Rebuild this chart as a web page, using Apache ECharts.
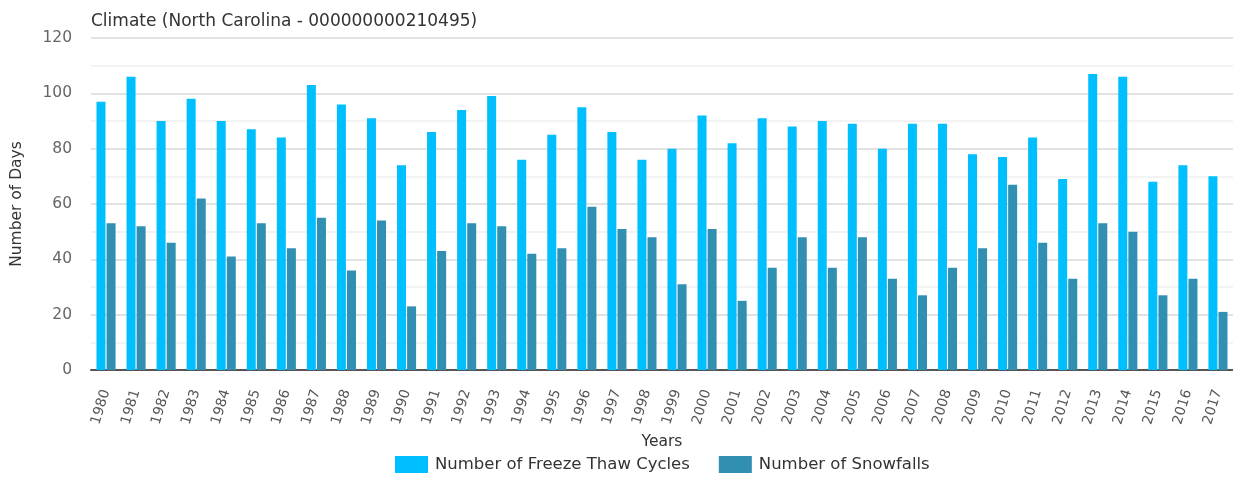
<!DOCTYPE html>
<html>
<head>
<meta charset="utf-8">
<title>Climate</title>
<script src="https://cdn.jsdelivr.net/npm/echarts@6/dist/echarts.min.js"></script>
<style>
  html, body { margin: 0; padding: 0; background: #fff; }
  #chart { width: 1233px; height: 477px; }
</style>
</head>
<body>
<div id="chart"></div>
<script>
const years = ['1980', '1981', '1982', '1983', '1984', '1985', '1986', '1987', '1988', '1989',
  '1990', '1991', '1992', '1993', '1994', '1995', '1996', '1997', '1998', '1999',
  '2000', '2001', '2002', '2003', '2004', '2005', '2006', '2007', '2008', '2009',
  '2010', '2011', '2012', '2013', '2014', '2015', '2016', '2017'];

const freezeThaw = [97, 106, 90, 98, 90, 87, 84, 103, 96, 91,
  74, 86, 94, 99, 76, 85, 95, 86, 76, 80,
  92, 82, 91, 88, 90, 89, 80, 89, 89, 78,
  77, 84, 69, 107, 106, 68, 74, 70];

const snowfalls = [53, 52, 46, 62, 41, 53, 44, 55, 36, 54,
  23, 43, 53, 52, 42, 44, 59, 51, 48, 31,
  51, 25, 37, 48, 37, 48, 33, 27, 37, 44,
  67, 46, 33, 53, 50, 27, 33, 21];

const chart = echarts.init(document.getElementById('chart'));

const font = 'DejaVu Sans, Liberation Sans, Arial, sans-serif';

const options = {
  animation: false,
  textStyle: { fontFamily: font },
  title: {
    text: 'Climate (North Carolina - 000000000210495)',
    left: 86,
    top: 8,
    textStyle: { fontSize: 17, fontWeight: 'normal', color: '#333', fontFamily: font }
  },
  legend: {
    top: 451,
    left: 390,
    icon: 'rect',
    itemWidth: 33,
    itemHeight: 17,
    itemGap: 29,
    textStyle: { fontSize: 16.5, color: '#333', fontFamily: font, padding: [0, 0, 0, 2] },
    data: ['Number of Freeze Thaw Cycles', 'Number of Snowfalls']
  },
  grid: { left: 91, right: 0, top: 38, bottom: 107 },
  xAxis: {
    type: 'category',
    data: years,
    name: 'Years',
    nameLocation: 'middle',
    nameGap: 61,
    nameTextStyle: { fontSize: 15.5, color: '#333' },
    axisLine: { lineStyle: { color: '#555', width: 2 } },
    axisTick: { show: false },
    axisLabel: { rotate: 73, fontSize: 14, color: '#555', margin: 20, interval: 0 }
  },
  yAxis: {
    type: 'value',
    min: 0,
    max: 120,
    interval: 20,
    name: 'Number of Days',
    nameLocation: 'middle',
    nameGap: 66,
    nameTextStyle: { fontSize: 15.5, color: '#333' },
    axisLine: { show: false },
    axisTick: { show: false },
    axisLabel: { fontSize: 15.5, color: '#666', margin: 19 },
    splitLine: { lineStyle: { color: '#d8d8d8', width: 1.5 } },
    minorTick: { show: false, splitNumber: 2 },
    minorSplitLine: { show: true, lineStyle: { color: '#efefef', width: 1.5 } }
  },
  series: [
    {
      name: 'Number of Freeze Thaw Cycles',
      type: 'bar',
      data: freezeThaw,
      barWidth: 9,
      barGap: '12%',
      itemStyle: { color: '#00bfff' }
    },
    {
      name: 'Number of Snowfalls',
      type: 'bar',
      data: snowfalls,
      barWidth: 9,
      itemStyle: { color: '#318fb2' }
    }
  ]
};

chart.setOption(options);
</script>
</body>
</html>
